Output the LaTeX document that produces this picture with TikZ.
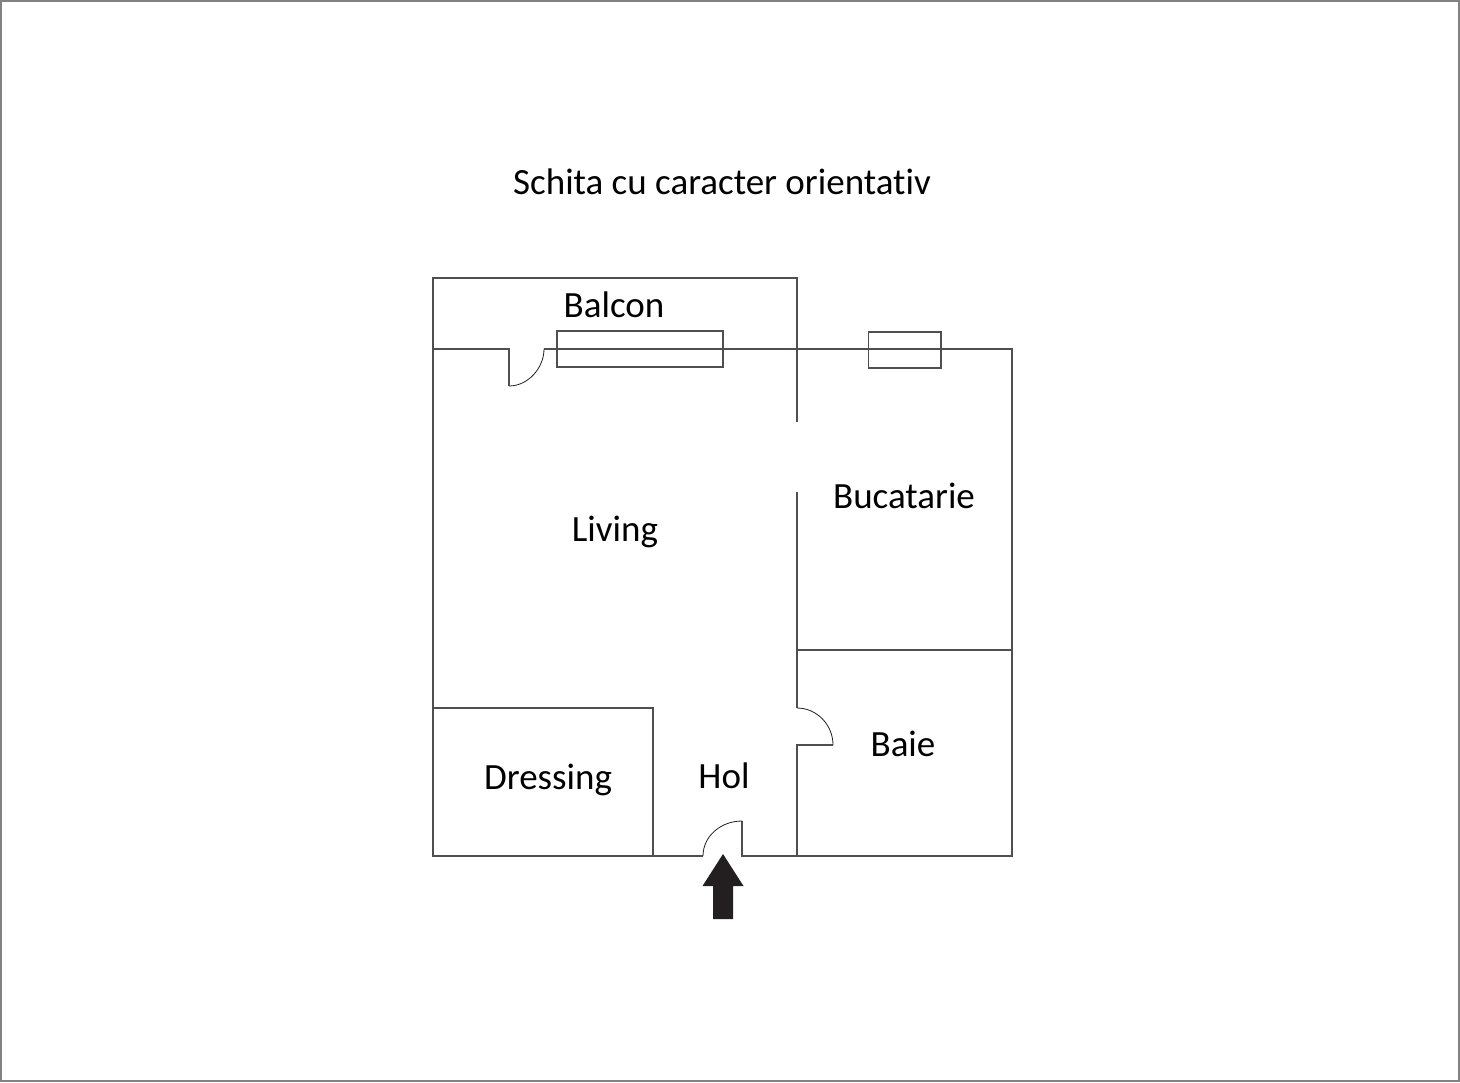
\documentclass[tikz,border=0pt]{standalone}
\usepackage{fontspec}
\setmainfont[Ligatures=NoCommon]{Carlito}
\usepackage{tikz}
\definecolor{walldark}{RGB}{35, 31, 32}
\definecolor{wallgray}{RGB}{80, 78, 78}
\definecolor{framegray}{RGB}{130, 130, 130}
\tikzset{
    wall/.style={
        draw=wallgray, line width=0.55pt, line join=miter
    },
    doorleaf/.style={
        draw=walldark, line width=0.4pt
    },
    roomlabel/.style={
        font=\fontsize{18.5}{22}\selectfont, text=black, inner sep=0pt
    }
}
\begin{document}
\begin{tikzpicture}[x=0.5pt, y=-0.5pt]
        % --- Khung ngoai ---
        \useasboundingbox (0,0) rectangle (1460,1082);
        \draw[framegray, line width=1pt] (1,1) rectangle (1459,1081);

        % --- Tieu de ---
        \node[roomlabel] (title) at (722,182) {Schita cu caracter orientativ};

        % --- Pereti exteriori ---
        \draw[wall] (703,856) -- (433,856) -- (433,349) -- (509,349) -- (509,386);
        \draw[wall] (544,349) -- (1012,349) -- (1012,856) -- (742,856) -- (742,821);

        % --- Balcon ---
        \draw[wall] (433,349) -- (433,278) -- (797,278) -- (797,422);

        % --- Pereti interiori ---
        \draw[wall] (797,492) -- (797,708);
        \draw[wall] (833,745) -- (797,745) -- (797,856);
        \draw[wall] (796,650) -- (1012,650);
        \draw[wall] (433,708) -- (653,708) -- (653,856);

        % --- Ferestre ---
        \draw[wall] (557,331) rectangle (723,367);
        \draw[wall] (868.5,332) rectangle (941,368);

        % --- Usi ---
        \draw[doorleaf] (509,386) .. controls (528,386) and (544,368) .. (544,349);
        \draw[doorleaf] (797,708) .. controls (817,708) and (833,725) .. (833,745);
        \draw[doorleaf] (703,856) .. controls (703,836) and (721,821) .. (742,821);

        % --- Sageata de intrare ---
        \fill[walldark] (723,854) -- (743.5,886) -- (733,886) -- (733,919) -- (713,919) -- (713,886) -- (702.5,886) -- cycle;

        % --- Etichete ---
        \node[roomlabel] (balcon) at (614,305) {Balcon};
        \node[roomlabel] (living) at (615,532) {Living};
        \node[roomlabel] (bucatarie) at (904,496) {Bucatarie};
        \node[roomlabel] (baie) at (903,744) {Baie};
        \node[roomlabel] (dressing) at (548,780) {Dressing};
        \node[roomlabel] (hol) at (724,776) {Hol};
\end{tikzpicture}
\end{document}
